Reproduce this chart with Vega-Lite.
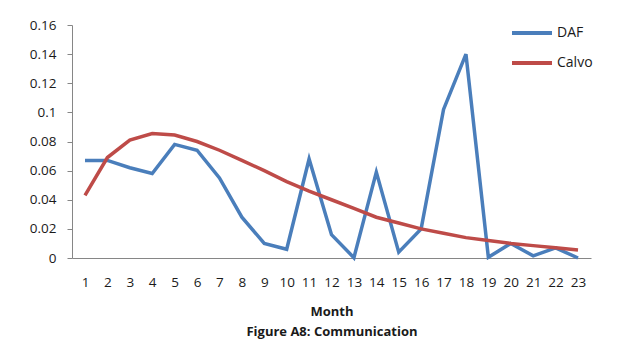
{
  "$schema": "https://vega.github.io/schema/vega-lite/v6.json",
  "width": 519,
  "height": 233,
  "autosize": {"type": "none"},
  "padding": {"left": 72, "top": 25, "right": 27, "bottom": 100},
  "background": "white",
  "config": {
    "view": {"stroke": null},
    "font": "Open Sans",
    "axis": {"domainColor": "#868686", "tickColor": "#868686", "labelColor": "#1a1a1a", "titleColor": "#1a1a1a", "grid": false, "labelFont": "Open Sans", "titleFont": "Open Sans"}
  },
  "data": {
    "values": [
      {"Month": 1, "series": "DAF", "value": 0.067},
      {"Month": 2, "series": "DAF", "value": 0.067},
      {"Month": 3, "series": "DAF", "value": 0.062},
      {"Month": 4, "series": "DAF", "value": 0.058},
      {"Month": 5, "series": "DAF", "value": 0.078},
      {"Month": 6, "series": "DAF", "value": 0.074},
      {"Month": 7, "series": "DAF", "value": 0.055},
      {"Month": 8, "series": "DAF", "value": 0.028},
      {"Month": 9, "series": "DAF", "value": 0.010},
      {"Month": 10, "series": "DAF", "value": 0.006},
      {"Month": 11, "series": "DAF", "value": 0.068},
      {"Month": 12, "series": "DAF", "value": 0.016},
      {"Month": 13, "series": "DAF", "value": 0.0002},
      {"Month": 14, "series": "DAF", "value": 0.059},
      {"Month": 15, "series": "DAF", "value": 0.004},
      {"Month": 16, "series": "DAF", "value": 0.020},
      {"Month": 17, "series": "DAF", "value": 0.102},
      {"Month": 18, "series": "DAF", "value": 0.140},
      {"Month": 19, "series": "DAF", "value": 0.0005},
      {"Month": 20, "series": "DAF", "value": 0.010},
      {"Month": 21, "series": "DAF", "value": 0.0015},
      {"Month": 22, "series": "DAF", "value": 0.007},
      {"Month": 23, "series": "DAF", "value": 0.0},
      {"Month": 1, "series": "Calvo", "value": 0.043},
      {"Month": 2, "series": "Calvo", "value": 0.069},
      {"Month": 3, "series": "Calvo", "value": 0.081},
      {"Month": 4, "series": "Calvo", "value": 0.0855},
      {"Month": 5, "series": "Calvo", "value": 0.0845},
      {"Month": 6, "series": "Calvo", "value": 0.080},
      {"Month": 7, "series": "Calvo", "value": 0.074},
      {"Month": 8, "series": "Calvo", "value": 0.067},
      {"Month": 9, "series": "Calvo", "value": 0.060},
      {"Month": 10, "series": "Calvo", "value": 0.0525},
      {"Month": 11, "series": "Calvo", "value": 0.046},
      {"Month": 12, "series": "Calvo", "value": 0.040},
      {"Month": 13, "series": "Calvo", "value": 0.034},
      {"Month": 14, "series": "Calvo", "value": 0.028},
      {"Month": 15, "series": "Calvo", "value": 0.024},
      {"Month": 16, "series": "Calvo", "value": 0.020},
      {"Month": 17, "series": "Calvo", "value": 0.017},
      {"Month": 18, "series": "Calvo", "value": 0.014},
      {"Month": 19, "series": "Calvo", "value": 0.012},
      {"Month": 20, "series": "Calvo", "value": 0.010},
      {"Month": 21, "series": "Calvo", "value": 0.0085},
      {"Month": 22, "series": "Calvo", "value": 0.007},
      {"Month": 23, "series": "Calvo", "value": 0.0055}
    ]
  },
  "mark": {"type": "line", "strokeWidth": 3.5, "strokeJoin": "miter", "strokeCap": "butt"},
  "encoding": {
    "x": {
      "field": "Month",
      "type": "ordinal",
      "scale": {"type": "point", "padding": 0.58},
      "axis": {
        "labelAngle": 0,
        "ticks": false,
        "labelPadding": 17,
        "labelFontSize": 13.5,
        "title": ["Month", "Figure A8: Communication"],
        "titleFontSize": 13,
        "titleFontWeight": "bold",
        "titleLineHeight": 20,
        "titlePadding": 17
      }
    },
    "y": {
      "field": "value",
      "type": "quantitative",
      "scale": {"domain": [0, 0.16], "nice": false},
      "axis": {
        "values": [0, 0.02, 0.04, 0.06, 0.08, 0.1, 0.12, 0.14, 0.16],
        "format": "~g",
        "tickSize": 5,
        "labelPadding": 11,
        "labelFontSize": 13.5,
        "title": null
      }
    },
    "color": {
      "field": "series",
      "type": "nominal",
      "sort": ["DAF", "Calvo"],
      "scale": {"domain": ["DAF", "Calvo"], "range": ["#4A7EBB", "#BE4B48"]},
      "legend": {
        "title": null,
        "orient": "none",
        "legendX": 438,
        "legendY": -14,
        "symbolType": "stroke",
        "symbolSize": 1600,
        "symbolStrokeWidth": 4,
        "labelFontSize": 14,
        "labelOffset": 3,
        "rowPadding": 0,
        "labelColor": "#1a1a1a"
      }
    }
  }
}
